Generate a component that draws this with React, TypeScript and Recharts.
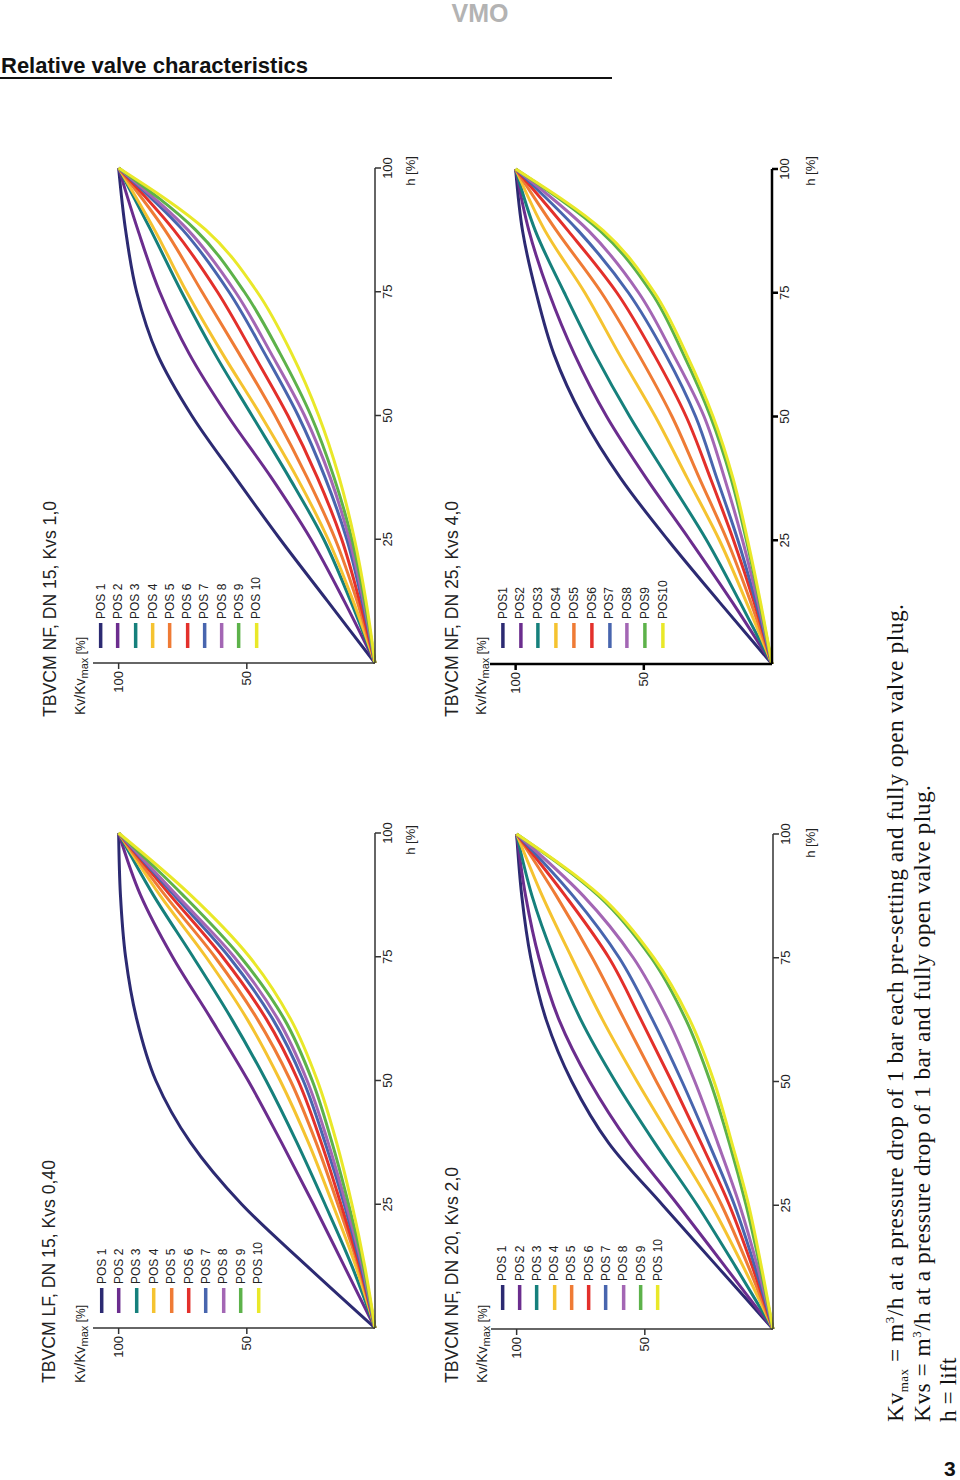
import React from 'react';
import { LineChart, Line, XAxis, YAxis, Legend } from 'recharts';

// lift h [%] where the curves were read
const lift = [0, 12.5, 25, 37.5, 50, 62.5, 75, 87.5, 100];

// Kv/Kvmax [%] per POS 1..10, one array per setting
const lfDn15Kvs040 = [
  [0, 26.5, 52, 72, 85.5, 93, 97.3, 99.3, 100],
  [0, 12, 24, 36.5, 49.5, 64, 79, 91.5, 100],
  [0, 9, 19.5, 30.5, 42.5, 56, 71, 86.5, 100],
  [0, 7.5, 16.5, 26, 37, 50, 66, 84, 100],
  [0, 6.5, 14.5, 23, 33, 46, 62.5, 82, 100],
  [0, 6, 13.3, 21, 30, 42.5, 59.5, 80, 100],
  [0, 5.5, 12, 19.5, 28, 40, 57, 78.5, 100],
  [0, 5, 11.3, 18.3, 26.5, 38, 55, 77.5, 100],
  [0, 4.5, 10.3, 16.8, 24.5, 35.5, 52.5, 75, 100],
  [0, 4, 9, 15, 22.5, 33, 49, 72, 100],
];

const nfDn15Kvs10 = [
  [0, 18.5, 37, 54.5, 71.5, 85, 93, 97.3, 100],
  [0, 12, 25, 40.5, 57.5, 72.5, 84, 92.5, 100],
  [0, 9.5, 20, 33.5, 48, 62.5, 75.5, 87.5, 100],
  [0, 8.5, 18.3, 30.5, 44.5, 59.5, 73.5, 86, 100],
  [0, 7, 15.5, 26.5, 39, 53, 67.5, 82, 100],
  [0, 6, 13, 22.5, 34, 47.5, 61.5, 78.5, 100],
  [0, 5, 11, 19.5, 30, 43, 57, 75, 100],
  [0, 4.5, 10, 17.5, 27.5, 40.5, 54.5, 73, 100],
  [0, 4, 9, 16, 25, 37, 51, 70, 100],
  [0, 3.5, 8, 14, 22, 32.5, 46, 66, 100],
];

const nfDn20Kvs20 = [
  [0, 21.5, 43, 64, 78.5, 88.5, 94.5, 98, 100],
  [0, 18.5, 37, 56, 71.5, 83.5, 91.3, 96.5, 100],
  [0, 14.5, 29.5, 46, 61.5, 75, 85.5, 94, 100],
  [0, 11.5, 24, 38.5, 53, 66.5, 78.5, 90, 100],
  [0, 9.5, 20, 32.5, 45.5, 58, 70.5, 84.5, 100],
  [0, 8, 17, 28, 39.5, 51.5, 64, 81, 100],
  [0, 7, 15, 25, 35.5, 47, 60, 78, 100],
  [0, 6, 13, 21.5, 30.5, 41, 54.5, 74, 100],
  [0, 5, 10.5, 17, 24.5, 34, 47.5, 68, 100],
  [0, 4.5, 9.5, 16, 23, 32.5, 46.5, 67.3, 100],
];

const nfDn25Kvs40 = [
  [0, 20.5, 40.5, 59, 74, 85, 92, 97.3, 100],
  [0, 15.5, 32, 49, 64.5, 77, 87, 94.8, 100],
  [0, 12.5, 25.5, 40.5, 55.5, 69, 81, 92.3, 100],
  [0, 10, 20.5, 33, 45.5, 59.5, 73, 88.5, 100],
  [0, 8.3, 17.5, 28.3, 39, 52, 66.5, 84, 100],
  [0, 7, 15, 24, 33.5, 46, 60.5, 79.5, 100],
  [0, 6.3, 13.3, 21.5, 29.8, 41.5, 56, 75.5, 100],
  [0, 5.5, 11.5, 18.5, 26.5, 38.5, 52, 71.5, 100],
  [0, 4.8, 10, 16, 24, 34.5, 47, 67, 100],
  [0, 4.5, 9.5, 15.2, 23, 33.3, 45.8, 65.7, 100],
];

const posLabels = ['POS 1', 'POS 2', 'POS 3', 'POS 4', 'POS 5', 'POS 6', 'POS 7', 'POS 8', 'POS 9', 'POS 10'];
const posLabelsTight = ['POS1', 'POS2', 'POS3', 'POS4', 'POS5', 'POS6', 'POS7', 'POS8', 'POS9', 'POS10'];

const posColors = ['#2c2a72', '#6b2d8e', '#16807c', '#f5c330', '#ef7b35', '#e3302b', '#4865ae', '#a366b4', '#5db24a', '#e9e829'];

const sans = '"Liberation Sans", Arial, sans-serif';
const serif = '"Liberation Serif", "Times New Roman", serif';

const posIndex = (p: any) => Number(String(p.dataKey).slice(1));

const PosLegend = ({ payload, gap }: any) => {
  const items = [...(payload || [])].sort((a, b) => posIndex(a) - posIndex(b));
  return (
    <div style={{ fontFamily: sans, fontSize: 12, color: '#222' }}>
      {items.map((p: any, k: number) => (
        <div key={k} style={{ height: gap, display: 'flex', alignItems: 'center', whiteSpace: 'nowrap' }}>
          <svg width={26} height={gap} style={{ display: 'block' }}>
            <line x1={0} x2={25} y1={gap / 2} y2={gap / 2} stroke={p.color} strokeWidth={3.5} />
          </svg>
          <span style={{ marginLeft: 3 }}>{p.value}</span>
        </div>
      ))}
    </div>
  );
};

interface ChartProps {
  curves: number[][];
  labels: string[];
  legendX: number;
  legendY: number;
  gap: number;
  axisWidth: number;
}

function ValveChart({ curves, labels, legendX, legendY, gap, axisWidth }: ChartProps) {
  const data = lift.map((h, i) => {
    const row: any = { h };
    curves.forEach((c, k) => { row['p' + (k + 1)] = c[i]; });
    return row;
  });
  const axisColor = axisWidth > 2 ? '#000' : '#333';
  return (
    <LineChart width={560} height={332} data={data} margin={{ top: 10, right: 15, bottom: 0, left: 0 }}>
      <XAxis
        dataKey="h"
        type="number"
        domain={[0, 100]}
        ticks={[25, 50, 75, 100]}
        height={40}
        axisLine={{ stroke: axisColor, strokeWidth: axisWidth }}
        tickLine={{ stroke: axisColor, strokeWidth: axisWidth }}
        tick={{ fontSize: 13, fill: '#222', fontFamily: sans }}
      />
      <YAxis
        type="number"
        domain={[0, 110]}
        ticks={[50, 100]}
        width={50}
        axisLine={{ stroke: axisColor, strokeWidth: axisWidth }}
        tickLine={{ stroke: axisColor, strokeWidth: axisWidth }}
        tick={{ fontSize: 13, fill: '#222', fontFamily: sans }}
      />
      {curves.map((_, k) => (
        <Line
          key={k}
          dataKey={'p' + (k + 1)}
          name={labels[k]}
          type="monotone"
          stroke={posColors[k]}
          strokeWidth={3}
          dot={false}
          isAnimationActive={false}
        />
      ))}
      <Legend
        layout="vertical"
        align="center"
        verticalAlign="middle"
        content={<PosLegend gap={gap} />}
        wrapperStyle={{ left: legendX, top: legendY - gap / 2, width: 'auto' }}
      />
    </LineChart>
  );
}

const KvLabel = ({ x, y }: { x: number; y: number }) => (
  <text x={x} y={y} fontSize={14} fill="#222" fontFamily={sans}>
    Kv/Kv<tspan fontSize={11} dy={3}>max</tspan>
    <tspan fontSize={12} dy={-3}> [%]</tspan>
  </text>
);

export default function App() {
  return (
    <div style={{ position: 'absolute', left: 0, top: 0, width: 960, height: 1480, background: '#fff', overflow: 'hidden', fontFamily: sans }}>
      <div style={{ position: 'absolute', left: 0, top: -1, width: 960, textAlign: 'center', color: '#b3b3b3', fontWeight: 700, fontSize: 25 }}>VMO</div>
      <div style={{ position: 'absolute', left: 1, top: 53, fontWeight: 700, fontSize: 22, color: '#111', whiteSpace: 'nowrap' }}>
        Relative valve characteristics
      </div>
      <div style={{ position: 'absolute', left: 0, top: 77, width: 612, height: 2, background: '#111' }} />
      <div style={{ position: 'absolute', left: 944, top: 1457, fontWeight: 700, fontSize: 21, color: '#111' }}>3</div>

      {/* everything below is drawn in the page's portrait frame turned a quarter left */}
      <div style={{ position: 'absolute', left: 0, top: 1440, width: 1340, height: 960, transform: 'rotate(-90deg)', transformOrigin: '0 0' }}>
        <svg width={1340} height={960} style={{ position: 'absolute', left: 0, top: 0 }}>
          <text x={57} y={55} fontSize={17.6} fill="#222" fontFamily={sans}>TBVCM LF, DN 15, Kvs 0,40</text>
          <text x={723} y={56} fontSize={17.6} fill="#222" fontFamily={sans}>TBVCM NF, DN 15, Kvs 1,0</text>
          <text x={57} y={458} fontSize={17.6} fill="#222" fontFamily={sans}>TBVCM NF, DN 20, Kvs 2,0</text>
          <text x={723} y={458} fontSize={17.6} fill="#222" fontFamily={sans}>TBVCM NF, DN 25, Kvs 4,0</text>
          <KvLabel x={57} y={85} />
          <KvLabel x={725} y={85} />
          <KvLabel x={57} y={487} />
          <KvLabel x={725} y={486} />
          <text x={600} y={415} fontSize={13} fill="#222" textAnchor="middle" fontFamily={sans}>h [%]</text>
          <text x={1269} y={415} fontSize={13} fill="#222" textAnchor="middle" fontFamily={sans}>h [%]</text>
          <text x={597} y={815} fontSize={13} fill="#222" textAnchor="middle" fontFamily={sans}>h [%]</text>
          <text x={1269} y={815} fontSize={13} fill="#222" textAnchor="middle" fontFamily={sans}>h [%]</text>
          <text x={18} y={903} fontSize={23.5} fill="#111" fontFamily={serif} textLength={818} lengthAdjust="spacing">
            Kv<tspan fontSize={13} dy={5}>max</tspan>
            <tspan dy={-5}> = m</tspan>
            <tspan fontSize={13} dy={-9}>3</tspan>
            <tspan dy={9}>/h at a pressure drop of 1 bar each pre-setting and fully open valve plug.</tspan>
          </text>
          <text x={18} y={930} fontSize={23.5} fill="#111" fontFamily={serif} textLength={637} lengthAdjust="spacing">
            Kvs = m<tspan fontSize={13} dy={-9}>3</tspan>
            <tspan dy={9}>/h at a pressure drop of 1 bar and fully open valve plug.</tspan>
          </text>
          <text x={18} y={956} fontSize={23.5} fill="#111" fontFamily={serif}>h = lift</text>
        </svg>
        <div style={{ position: 'absolute', left: 62, top: 83 }}>
          <ValveChart curves={lfDn15Kvs040} labels={posLabels} legendX={65} legendY={18.7} gap={17.4} axisWidth={1.5} />
        </div>
        <div style={{ position: 'absolute', left: 727, top: 83 }}>
          <ValveChart curves={nfDn15Kvs10} labels={posLabels} legendX={65} legendY={17.7} gap={17.3} axisWidth={1.5} />
        </div>
        <div style={{ position: 'absolute', left: 61, top: 481 }}>
          <ValveChart curves={nfDn20Kvs20} labels={posLabels} legendX={69} legendY={21.3} gap={17.3} axisWidth={1.5} />
        </div>
        <div style={{ position: 'absolute', left: 726, top: 480 }}>
          <ValveChart curves={nfDn25Kvs40} labels={posLabelsTight} legendX={66} legendY={22.7} gap={17.8} axisWidth={2.5} />
        </div>
      </div>
    </div>
  );
}
